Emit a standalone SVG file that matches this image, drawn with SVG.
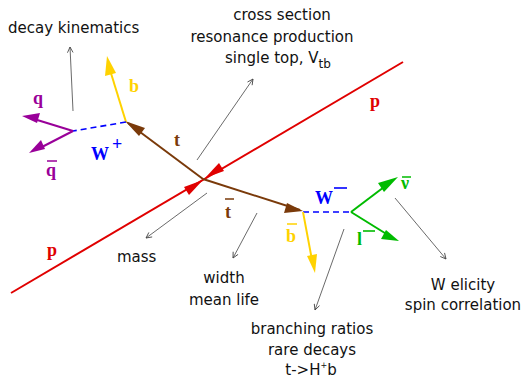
<svg xmlns="http://www.w3.org/2000/svg" width="524" height="378" viewBox="0 0 524 378">
<style>
.t{font-family:"DejaVu Sans","Liberation Sans",sans-serif;font-size:15px;fill:#111}
.l{font-family:"Liberation Serif","DejaVu Serif",serif;font-weight:bold;font-size:18px}
.g{stroke:#444;stroke-width:0.8;fill:none}
</style>
<defs>
<marker id="ag" viewBox="0 0 10 10" refX="9" refY="5" markerWidth="7" markerHeight="7" markerUnits="userSpaceOnUse" orient="auto"><path d="M1,1 L9,5 L1,9" fill="none" stroke="#444" stroke-width="1.2"/></marker>
</defs>
<rect width="524" height="378" fill="#fff"/>
<g id="connectors">
<line x1="11" y1="293" x2="403" y2="62" stroke="#e00000" stroke-width="2"/>
<polygon points="203,180 184,187 189,195" fill="#e00000"/>
<polygon points="205,178 224,171 219,163" fill="#e00000"/>
<line x1="203" y1="179" x2="128" y2="123" stroke="#7a3a0a" stroke-width="2"/>
<polygon points="125,121 145,128 139,136" fill="#7a3a0a"/>
<line x1="203" y1="179" x2="300" y2="210" stroke="#7a3a0a" stroke-width="2"/>
<polygon points="303,211 284,213 287,203" fill="#7a3a0a"/>
<line x1="126" y1="122" x2="110" y2="70" stroke="#ffd200" stroke-width="2"/>
<polygon points="107,56 105,76 116,73" fill="#ffd200"/>
<line x1="126" y1="122" x2="73" y2="131" stroke="#0000ff" stroke-width="1.6" stroke-dasharray="6,4"/>
<line x1="73" y1="131" x2="34" y2="119" stroke="#990099" stroke-width="2"/>
<polygon points="22,116 40,113 37,123" fill="#990099"/>
<line x1="73" y1="131" x2="40" y2="148" stroke="#990099" stroke-width="2"/>
<polygon points="29,153 41,140 45,149" fill="#990099"/>
<line x1="303" y1="212" x2="351" y2="212" stroke="#0000ff" stroke-width="1.6" stroke-dasharray="6,4"/>
<line x1="303" y1="212" x2="312" y2="260" stroke="#ffd200" stroke-width="2"/>
<polygon points="315,273 307,256 317,254" fill="#ffd200"/>
<line x1="351" y1="212" x2="388" y2="184" stroke="#00bb00" stroke-width="2"/>
<polygon points="398,177 384,192 378,183" fill="#00bb00"/>
<line x1="351" y1="212" x2="388" y2="235" stroke="#00bb00" stroke-width="2"/>
<polygon points="399,241 381,239 386,230" fill="#00bb00"/>
<line class="g" x1="73" y1="111" x2="70" y2="47" marker-end="url(#ag)"/>
<line class="g" x1="197" y1="160" x2="253" y2="79" marker-end="url(#ag)"/>
<line class="g" x1="207" y1="193" x2="146" y2="238" marker-end="url(#ag)"/>
<line class="g" x1="257" y1="213" x2="233" y2="258" marker-end="url(#ag)"/>
<line class="g" x1="344" y1="229" x2="315" y2="310" marker-end="url(#ag)"/>
<line class="g" x1="395" y1="198" x2="446" y2="259" marker-end="url(#ag)"/>
</g>
<g id="particle-labels">
<text class="l" x="129" y="92" fill="#ffd200">b</text>
<text class="l" x="33" y="104" fill="#990099">q</text>
<text class="l" x="46" y="176" fill="#990099">q</text>
<line x1="47" y1="161" x2="57" y2="161" stroke="#990099" stroke-width="1.5"/>
<text class="l" x="91" y="160" fill="#0000ff">W</text>
<text class="l" x="112" y="150" fill="#0000ff" font-size="16">+</text>
<text class="l" x="174" y="146" fill="#7a3a0a">t</text>
<text class="l" x="225" y="218" fill="#7a3a0a">t</text>
<line x1="225" y1="199" x2="234" y2="199" stroke="#7a3a0a" stroke-width="1.5"/>
<text class="l" x="370" y="107" fill="#e00000">p</text>
<text class="l" x="47" y="256" fill="#e00000">p</text>
<text class="l" x="315" y="204" fill="#0000ff">W</text>
<line x1="334" y1="188" x2="347" y2="188" stroke="#0000ff" stroke-width="1.6"/>
<text class="l" x="401" y="189" fill="#00bb00">ν</text>
<line x1="402" y1="177" x2="411" y2="177" stroke="#00bb00" stroke-width="1.5"/>
<text class="l" x="357" y="245" fill="#00bb00">l</text>
<line x1="363" y1="231" x2="375" y2="231" stroke="#00bb00" stroke-width="1.6"/>
<text class="l" x="286" y="242" fill="#ffd200">b</text>
<line x1="287" y1="224" x2="297" y2="224" stroke="#ffd200" stroke-width="1.5"/>
</g>
<g id="annotations">
<text class="t" x="8" y="33">decay kinematics</text>
<text class="t" x="282" y="20" text-anchor="middle">cross section</text>
<text class="t" x="272" y="42" text-anchor="middle">resonance production</text>
<text class="t" x="225" y="63">single top, V<tspan font-size="12" dy="5">tb</tspan></text>
<text class="t" x="117" y="262">mass</text>
<text class="t" x="224" y="283" text-anchor="middle">width</text>
<text class="t" x="224" y="305" text-anchor="middle">mean life</text>
<text class="t" x="312" y="334" text-anchor="middle">branching ratios</text>
<text class="t" x="312" y="355" text-anchor="middle">rare decays</text>
<text class="t" x="311" y="375" text-anchor="middle">t-&gt;H<tspan font-size="8" dy="-7">+</tspan><tspan dy="7">b</tspan></text>
<text class="t" x="463" y="290" text-anchor="middle">W elicity</text>
<text class="t" x="463" y="310" text-anchor="middle">spin correlation</text>
</g>
</svg>
